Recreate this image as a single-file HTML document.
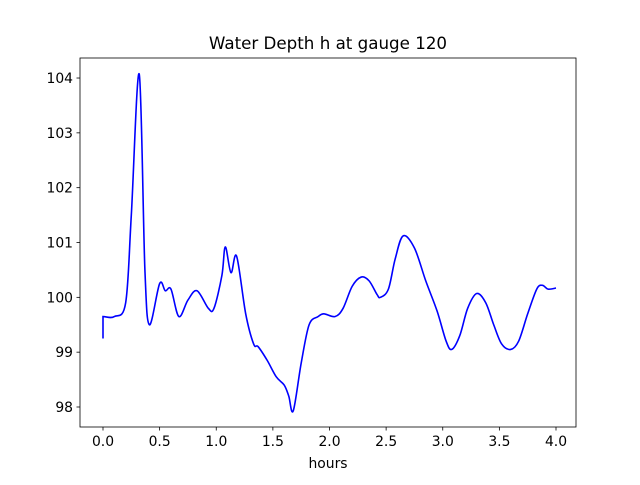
<!DOCTYPE html>
<html><head><meta charset="utf-8"><style>
body{margin:0;background:#fff}
svg text{font-family:"DejaVu Sans","Liberation Sans",sans-serif;fill:#000}
</style></head><body>
<svg id="chart" width="640" height="480" xmlns="http://www.w3.org/2000/svg">
<rect width="640" height="480" fill="#fff"/>
<g id="ticks"></g>
<path id="line" fill="none" stroke="#0000ff" stroke-width="1.6"/>
<rect x="80" y="58" width="496" height="369" fill="none" stroke="#000" stroke-width="0.8"/>
<text x="328" y="49" font-size="16.7" text-anchor="middle">Water Depth h at gauge 120</text>
<text x="328" y="468" font-size="13.9" text-anchor="middle">hours</text>
</svg>
<script>
const hours=[0,0,0.1,0.2,0.25,0.32,0.37,0.41,0.5,0.55,0.6,0.67,0.75,0.83,0.93,0.98,1.05,1.08,1.13,1.18,1.26,1.33,1.37,1.45,1.53,1.6,1.64,1.68,1.75,1.82,1.9,1.95,2.05,2.12,2.2,2.28,2.35,2.42,2.45,2.52,2.58,2.65,2.75,2.85,2.95,3.03,3.08,3.15,3.22,3.3,3.38,3.45,3.52,3.6,3.67,3.75,3.83,3.88,3.93,4.0];
const depth=[99.25,99.65,99.65,99.9,101.5,104.07,100.5,99.5,100.25,100.12,100.15,99.65,99.95,100.12,99.8,99.8,100.4,100.92,100.45,100.75,99.7,99.15,99.1,98.85,98.55,98.4,98.2,97.93,98.8,99.5,99.65,99.7,99.65,99.8,100.2,100.37,100.3,100.05,100.0,100.15,100.7,101.12,100.9,100.3,99.75,99.2,99.05,99.3,99.8,100.07,99.9,99.5,99.15,99.05,99.2,99.7,100.15,100.22,100.15,100.17];
const xTicks=[0,0.5,1,1.5,2,2.5,3,3.5,4];
const xTickLabels=["0.0","0.5","1.0","1.5","2.0","2.5","3.0","3.5","4.0"];
const yTicks=[98,99,100,101,102,103,104];
const yTickLabels=["98","99","100","101","102","103","104"];
const xs=v=>103+v*113.25, ys=v=>407-(v-98)*54.83;
const NS="http://www.w3.org/2000/svg", g=document.getElementById('ticks');
function mk(t,a){const e=document.createElementNS(NS,t);for(const k in a)e.setAttribute(k,a[k]);g.appendChild(e);return e;}
xTicks.forEach((v,i)=>{const x=xs(v);
 const l=mk('line',{x1:x,x2:x,y1:427,y2:430.5,stroke:'#000','stroke-width':0.8});
 
 
 const t=mk('text',{x:x,y:446,'font-size':13.9,'text-anchor':'middle'});t.textContent=xTickLabels[i];
 
 });
yTicks.forEach((v,i)=>{const y=ys(v);
 const l=mk('line',{x1:76.5,x2:80,y1:y,y2:y,stroke:'#000','stroke-width':0.8});
 
 
 const t=mk('text',{x:73,y:y+5,'font-size':13.9,'text-anchor':'end'});t.textContent=yTickLabels[i];
 
 });
const P=hours.map((h,i)=>[xs(h),ys(depth[i])]);
let d='M'+P[0][0]+','+P[0][1];
for(let i=0;i<P.length-1;i++){const p0=P[Math.max(i-1,0)],p1=P[i],p2=P[i+1],p3=P[Math.min(i+2,P.length-1)];
 if(p1[0]===p2[0]){d+=' L'+p2[0]+','+p2[1];continue;}
 const c1=[p1[0]+(p2[0]-p0[0])/6,p1[1]+(p2[1]-p0[1])/6],c2=[p2[0]-(p3[0]-p1[0])/6,p2[1]-(p3[1]-p1[1])/6];
 if(p0[0]===p1[0]){c1[0]=p1[0]+(p2[0]-p1[0])/3;c1[1]=p1[1];}
 d+=' C'+c1+' '+c2+' '+p2;}
document.getElementById('line').setAttribute('d',d);
</script>
</body></html>
